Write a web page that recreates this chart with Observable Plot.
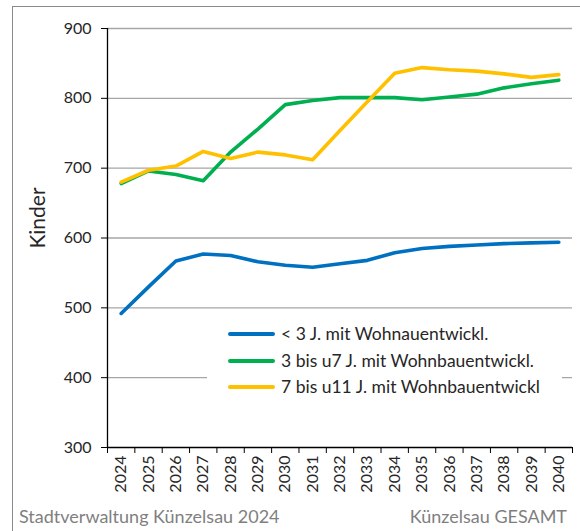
<!DOCTYPE html>
<html><head><meta charset="utf-8">
<script src="https://cdn.jsdelivr.net/npm/d3@7"></script>
<script src="https://cdn.jsdelivr.net/npm/@observablehq/plot@0.6"></script>
<style>
body{margin:0;background:#fff;font-family:Lato,sans-serif;}
#wrap{position:relative;width:580px;height:531px;overflow:hidden;background:#fff;}
#frame{position:absolute;left:12px;top:6px;width:620px;height:620px;border-left:1px solid #8a8a8a;border-top:1px solid #8a8a8a;}
#chart{position:absolute;left:0;top:0;}
#legend{position:absolute;left:207px;top:318px;width:355px;height:82px;background:#fff;}
.item{position:absolute;left:0;height:20px;}
.swatch{position:absolute;left:21px;width:47px;height:4px;border-radius:2px;}
.lab{position:absolute;left:74px;font-size:17.5px;color:#262626;white-space:nowrap;line-height:20px;}
.foot{position:absolute;font-size:18px;color:#7f7f7f;white-space:nowrap;}
</style></head>
<body>
<div id="wrap">
<div id="frame"></div>
<div id="chart"></div>
<div id="legend"></div>
<div class="foot" id="f1" style="left:19px;top:505px;"></div>
<div class="foot" id="f2" style="right:13px;top:505px;"></div>
</div>
<script>
const years = [2024, 2025, 2026, 2027, 2028, 2029, 2030, 2031, 2032, 2033, 2034, 2035, 2036, 2037, 2038, 2039, 2040];
const under3 = [492, 530, 567, 577, 575, 566, 561, 558, 563, 568, 579, 585, 588, 590, 592, 593, 594];
const age3to7 = [678, 696, 691, 682, 723, 756, 791, 797, 801, 801, 801, 798, 802, 806, 815, 821, 826];
const age7to11 = [680, 697, 703, 724, 714, 723, 719, 712, 754, 795, 836, 844, 841, 839, 835, 830, 834];
const seriesNames = ["< 3 J. mit Wohnauentwickl.", "3 bis u7 J. mit Wohnbauentwickl.", "7 bis u11 J. mit Wohnbauentwickl"];
const colors = ["#0070C0", "#00B050", "#FFC000"];
const yTicks = [300, 400, 500, 600, 700, 800, 900];
const yLabel = "Kinder";
const footLeft = "Stadtverwaltung Künzelsau 2024";
const footRight = "Künzelsau GESAMT";

const seriesValues = [under3, age3to7, age7to11];
const data = [];
seriesValues.forEach((vals, s) => vals.forEach((v, i) => data.push({year: years[i], value: v, series: seriesNames[s]})));
const boundaries = years.map(y => y - 0.5).concat([years[years.length - 1] + 0.5]);

const chart = Plot.plot({
  width: 580, height: 531,
  marginLeft: 107, marginRight: 8, marginTop: 28, marginBottom: 84,
  style: {fontFamily: "Lato, sans-serif", background: "transparent", overflow: "visible"},
  x: {type: "linear", domain: [boundaries[0], boundaries[boundaries.length - 1]]},
  y: {domain: [yTicks[0], yTicks[yTicks.length - 1]]},
  color: {domain: seriesNames, range: colors},
  marks: [
    Plot.gridY(yTicks.slice(1), {stroke: "#a6a6a6", strokeOpacity: 1, strokeWidth: 1.3}),
    Plot.axisY(yTicks, {tickSize: 6, tickPadding: 10, fontSize: 16, fill: "#262626", stroke: "#000", label: null, tickFormat: d => String(d)}),
    Plot.axisX(boundaries, {tickSize: 6, tickFormat: () => "", label: null, stroke: "#000"}),
    Plot.axisX(years, {tickSize: 0, tickRotate: -90, tickPadding: 8, fontSize: 16, fill: "#262626", tickFormat: d => String(d), label: null}),
    Plot.ruleY([yTicks[0]], {stroke: "#000", strokeWidth: 1.3}),
    Plot.ruleX([boundaries[0]], {stroke: "#000", strokeWidth: 1.3}),
    Plot.line(data, {x: "year", y: "value", z: "series", stroke: "series", strokeWidth: 3.6, strokeLinejoin: "round", strokeLinecap: "round"}),
    Plot.text([yLabel], {frameAnchor: "left", textAnchor: "middle", dx: -69, dy: -20, rotate: -90, fontSize: 21, fill: "#262626"})
  ]
});
document.getElementById("chart").appendChild(chart);

const legend = document.getElementById("legend");
const rowY = [16, 43, 69];
seriesNames.forEach((name, i) => {
  const item = document.createElement("div");
  item.className = "item";
  item.style.top = (rowY[i] - 10) + "px";
  item.innerHTML = `<div class="swatch" style="top:8px;background:${colors[i]}"></div><div class="lab"></div>`;
  item.querySelector(".lab").textContent = name;
  legend.appendChild(item);
});
document.getElementById("f1").textContent = footLeft;
document.getElementById("f2").textContent = footRight;
</script>
</body></html>
